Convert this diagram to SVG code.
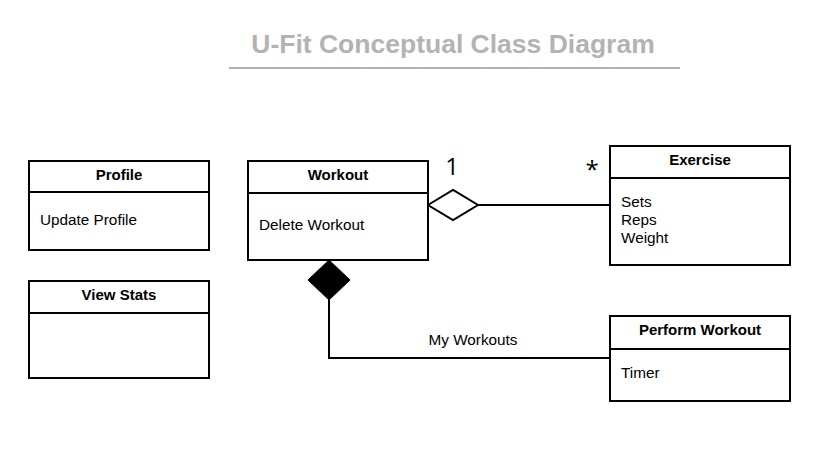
<svg xmlns="http://www.w3.org/2000/svg" width="823" height="459" viewBox="0 0 823 459">
<style>
.box{fill:#fff;stroke:#000;stroke-width:2}
.div{stroke:#000;stroke-width:2}
.hd{font-family:"Liberation Sans",Arial,sans-serif;font-weight:bold;font-size:15px;fill:#000;text-anchor:middle}
.bd{font-family:"Liberation Sans",Arial,sans-serif;font-size:15.3px;fill:#000}
.ln{fill:none;stroke:#000;stroke-width:2}
.mult{font-family:"Open Sans","Liberation Sans",sans-serif;font-size:24px;fill:#000;text-anchor:middle}
</style>
<rect width="823" height="459" fill="#fff"/>
<g id="title">
<text x="453" y="53" font-family="Liberation Sans,Arial,sans-serif" font-weight="bold" font-size="26.5" fill="#b3b3b3" text-anchor="middle">U-Fit Conceptual Class Diagram</text>
<line x1="229" y1="68" x2="680" y2="68" stroke="#b3b3b3" stroke-width="2"/>
</g>
<g id="connectors">
<polyline class="ln" points="478,205 610,205"/>
<polygon points="428,205 453,190 478,205 453,220" fill="#fff" stroke="#000" stroke-width="2"/>
<polyline class="ln" points="329,300 329,358 610,358"/>
<polygon points="329,260 350,280 329,300 308,280" fill="#000" stroke="#000" stroke-width="1"/>
<text class="mult" x="452" y="175">1</text>
<text class="mult" x="592" y="178">*</text>
<text class="bd" x="473" y="345" text-anchor="middle">My Workouts</text>
</g>
<g id="profile">
<rect class="box" x="29" y="161" width="180" height="89"/>
<line class="div" x1="29" y1="192" x2="209" y2="192"/>
<text class="hd" x="119" y="180">Profile</text>
<text class="bd" x="40" y="225">Update Profile</text>
</g>
<g id="viewstats">
<rect class="box" x="29" y="281" width="180" height="97"/>
<line class="div" x1="29" y1="313" x2="209" y2="313"/>
<text class="hd" x="119" y="300">View Stats</text>
</g>
<g id="workout">
<rect class="box" x="248" y="161" width="180" height="99"/>
<line class="div" x1="248" y1="193" x2="428" y2="193"/>
<text class="hd" x="338" y="180">Workout</text>
<text class="bd" x="259" y="230">Delete Workout</text>
</g>
<g id="exercise">
<rect class="box" x="610" y="146" width="180" height="119"/>
<line class="div" x1="610" y1="178" x2="790" y2="178"/>
<text class="hd" x="700" y="165">Exercise</text>
<text class="bd" x="621" y="207">Sets</text>
<text class="bd" x="621" y="225">Reps</text>
<text class="bd" x="621" y="243">Weight</text>
</g>
<g id="performworkout">
<rect class="box" x="610" y="316" width="180" height="85"/>
<line class="div" x1="610" y1="349" x2="790" y2="349"/>
<text class="hd" x="700" y="335">Perform Workout</text>
<text class="bd" x="621" y="378">Timer</text>
</g>
</svg>
